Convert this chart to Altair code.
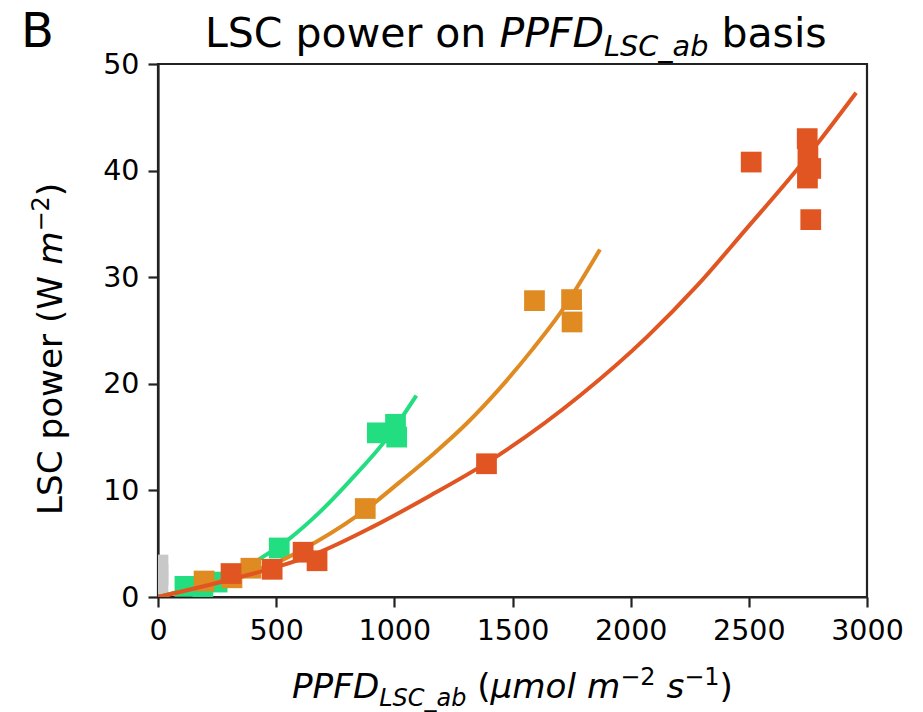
import altair as alt
import pandas as pd

# ---------------- data ----------------
gray_x = [0, 0, 0]
gray_y = [1.2, 2.1, 3.0]

green_x = [114, 190, 250, 513, 928, 1005, 1010]
green_y = [1.0, 0.5, 1.4, 4.6, 15.4, 16.2, 15.0]
orange_x = [195, 313, 393, 877, 1593, 1750, 1752]
orange_y = [1.5, 1.8, 2.7, 8.3, 27.8, 27.9, 25.8]
red_x = [309, 483, 614, 673, 1390, 2510, 2747, 2750, 2762, 2748, 2762]
red_y = [2.2, 2.6, 4.2, 3.4, 12.5, 40.8, 43.0, 41.3, 40.2, 39.3, 35.4]

green_fit_x = [0, 150, 300, 432, 558, 672, 812, 973, 1093]
green_fit_y = [0, 0.9, 2.0, 3.6, 5.5, 7.7, 10.9, 15.0, 18.9]
orange_fit_x = [0, 150, 305, 500, 672, 897, 1024, 1164, 1307, 1447, 1587, 1701, 1870]
orange_fit_y = [0, 0.8, 1.8, 3.2, 5.2, 8.5, 10.8, 13.4, 16.3, 19.6, 23.3, 26.6, 32.6]
red_fit_x = [0, 300, 500, 672, 910, 1151, 1392, 1786, 2069, 2281, 2492, 2704, 2954]
red_fit_y = [0, 1.6, 2.8, 4.1, 6.6, 9.5, 12.6, 18.9, 24.4, 29.2, 34.6, 40.1, 47.3]

x_ticks = [0, 500, 1000, 1500, 2000, 2500, 3000]
y_ticks = [0, 10, 20, 30, 40, 50]

GRAY, GREEN, ORANGE, RED = "#c8c8c8", "#22de80", "#e08a22", "#e05522"
FONT = "DejaVu Sans"
AX = "#222222"

W, H = 709, 533

xscale = alt.Scale(domain=[0, 3000], nice=False, zero=False)
yscale = alt.Scale(domain=[0, 50], nice=False, zero=False)
xaxis = alt.Axis(values=x_ticks, title=None, grid=False, labelFont=FONT, labelFontSize=28.5,
                 labelColor="black", tickSize=10, tickWidth=2.2, tickColor=AX, domainColor=AX,
                 domainWidth=2.2, labelPadding=9, labelFlush=False, format="d")
yaxis = alt.Axis(values=y_ticks, title=None, grid=False, labelFont=FONT, labelFontSize=28.5,
                 labelColor="black", tickSize=10, tickWidth=2.2, tickColor=AX, domainColor=AX,
                 domainWidth=2.2, labelPadding=9, format="d")


def scatter(xs, ys, color):
    df = pd.DataFrame({"x": xs, "y": ys})
    return alt.Chart(df).mark_point(shape="square", filled=True, size=430, color=color,
                                    opacity=1, strokeWidth=0, clip=True).encode(
        x=alt.X("x:Q", scale=xscale, axis=xaxis),
        y=alt.Y("y:Q", scale=yscale, axis=yaxis))


def curve(xs, ys, color):
    df = pd.DataFrame({"x": xs, "y": ys})
    return alt.Chart(df).mark_line(color=color, strokeWidth=4, interpolate="monotone",
                                   clip=True).encode(
        x=alt.X("x:Q", scale=xscale, axis=xaxis),
        y=alt.Y("y:Q", scale=yscale, axis=yaxis))


one = pd.DataFrame({"k": [0]})
OX, OY = 158, 64  # plot origin in page pixels

# DejaVu Sans advance widths (em) for laying out mixed-style text runs
EM = {" ": .318, "(": .390, ")": .390, "−": .838, "0": .636, "1": .636, "2": .636,
      "L": .557, "S": .635, "C": .698, "P": .603, "F": .575, "D": .770, "W": .989,
      "a": .613, "b": .635, "e": .615, "i": .278, "l": .278, "m": .974, "n": .634,
      "o": .612, "p": .635, "r": .411, "s": .521, "w": .818, "_": .5, "μ": .636}


def run_width(s, size):
    return sum(EM.get(c, .6) for c in s) * size


def text_run(segments, start, base, size, angle=0):
    """segments: list of (text, italic, kind) with kind in 'n','sub','sup'."""
    out = []
    pos = start
    step = -1 if angle == 270 else 1
    for txt, italic, kind in segments:
        fs = size * 0.7 if kind in ("sub", "sup") else size
        shift = {"n": 0, "sub": 0.22 * size, "sup": -0.38 * size}[kind]
        lead = len(txt) - len(txt.lstrip(" "))
        pos += step * run_width(" " * lead, fs)
        body = txt.lstrip(" ")
        if not body:
            continue
        kw = dict(text=body, font=FONT, fontSize=fs, color="black", align="left",
                  baseline="alphabetic", fontStyle="italic" if italic else "normal")
        if angle == 270:
            kw["angle"] = 270
            x, y = base + shift, pos
        else:
            x, y = pos, base + shift
        pos += step * run_width(body, fs)
        out.append(alt.Chart(one).mark_text(**kw).encode(
            x=alt.value(x - OX), y=alt.value(y - OY)))
    return out


TF = 41.0   # title size
LF = 34.2   # axis-title size

texts = [alt.Chart(one).mark_text(text="B", font=FONT, fontSize=48, color="black",
                                  align="left", baseline="alphabetic").encode(
    x=alt.value(21 - OX), y=alt.value(47 - OY))]
texts += text_run([("LSC power on", False, "n"), (" PPFD", True, "n"),
                   ("LSC_ab", True, "sub"), (" basis", False, "n")], 205, 47, TF)
texts += text_run([("PPFD", True, "n"), ("LSC_ab", True, "sub"), (" (", False, "n"),
                   ("μmol", True, "n"), (" m", True, "n"),
                   ("−2", False, "sup"), (" s", True, "n"),
                   ("−1", False, "sup"), (")", False, "n")], 292, 698, LF)
texts += text_run([("LSC power (W", False, "n"), (" m", True, "n"),
                   ("−2", False, "sup"), (")", False, "n")], 515, 62, LF, angle=270)

layers = [
    scatter(gray_x, gray_y, GRAY),
    curve(green_fit_x, green_fit_y, GREEN), scatter(green_x, green_y, GREEN),
    curve(orange_fit_x, orange_fit_y, ORANGE), scatter(orange_x, orange_y, ORANGE),
    curve(red_fit_x, red_fit_y, RED), scatter(red_x, red_y, RED),
] + texts

chart = alt.layer(*layers).properties(
    width=W, height=H,
    padding={"left": OX, "top": OY, "right": 923 - OX - W, "bottom": 712 - OY - H},
    autosize=alt.AutoSizeParams(type="none"),
    background="white",
).configure_view(stroke=AX, strokeWidth=2.2)

chart.save("out.html", embed_options={"renderer": "svg", "actions": False})
